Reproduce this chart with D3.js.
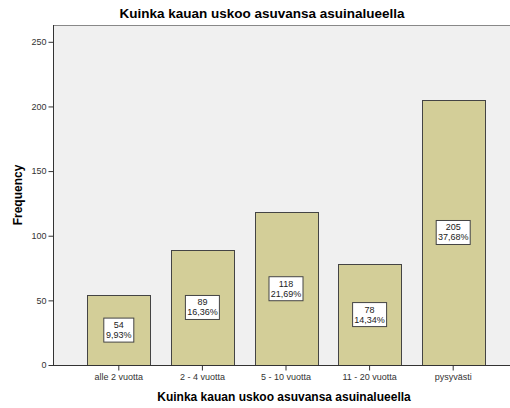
<!DOCTYPE html>
<html lang="fi">
<head>
  <meta charset="UTF-8">
  <title>Kuinka kauan uskoo asuvansa asuinalueella</title>
  <script src="https://cdn.jsdelivr.net/npm/d3@7"></script>
  <style>
    body { margin: 0; background: #fff; }
    text { font-family: "Liberation Sans", Arial, sans-serif; }
  </style>
</head>
<body>
<script>
  var categories = ['alle 2 vuotta', '2 - 4 vuotta', '5 - 10 vuotta', '11 - 20 vuotta', 'pysyvästi'];
  var counts = [54, 89, 118, 78, 205];
  var percents = ['9,93%', '16,36%', '21,69%', '14,34%', '37,68%'];
  var yTicks = [0, 50, 100, 150, 200, 250];

  var W = 510, H = 408;
  var m = {top: 25, right: 0, bottom: 43, left: 53};
  var iw = W - m.left - m.right, ih = H - m.top - m.bottom;

  var svg = d3.select('body').append('svg')
    .attr('width', W).attr('height', H);

  var x = d3.scaleBand()
    .domain(categories)
    .range([m.left + 24, m.left + 24 + 5 * 83.6])
    .paddingInner(0.25).paddingOuter(0.125);

  var y = d3.scaleLinear().domain([0, 263]).range([m.top + ih, m.top]);

  // plot background
  svg.append('rect')
    .attr('x', m.left).attr('y', m.top)
    .attr('width', iw).attr('height', ih)
    .attr('fill', '#f0f0f0');
  svg.append('line')
    .attr('x1', m.left).attr('x2', W)
    .attr('y1', m.top + 0.5).attr('y2', m.top + 0.5)
    .attr('stroke', '#888');

  var data = categories.map(function(c, i) {
    return {cat: c, n: counts[i], p: percents[i]};
  });

  svg.selectAll('rect.bar')
    .data(data).enter().append('rect')
    .attr('class', 'bar')
    .attr('x', function(d) { return Math.round(x(d.cat)) + 0.5; })
    .attr('y', function(d) { return Math.round(y(d.n)) + 0.5; })
    .attr('width', Math.round(x.bandwidth()))
    .attr('height', function(d) { return Math.round(y(0)) - Math.round(y(d.n)); })
    .attr('fill', '#d3ce98')
    .attr('stroke', '#444')
    .attr('stroke-width', 1);

  // axes
  var yAxis = d3.axisLeft(y).tickValues(yTicks).tickSize(5).tickPadding(2);
  var gy = svg.append('g').attr('transform', 'translate(' + (m.left + 0.5) + ',0)').call(yAxis);
  var xAxis = d3.axisBottom(x).tickSize(5).tickPadding(3);
  var gx = svg.append('g').attr('transform', 'translate(0,' + (Math.round(y(0)) + 0.5) + ')').call(xAxis);
  gy.select('.domain').attr('d', 'M0,' + m.top + 'V' + (y(0) + 0.5)).attr('stroke', '#333');
  gx.select('.domain').attr('d', 'M' + m.left + ',0H' + W).attr('stroke', '#333');
  [gy, gx].forEach(function(g) {
    g.selectAll('.tick line').attr('stroke', '#333');
    g.selectAll('.tick text').attr('fill', '#333').style('font-size', '9px')
      .style('font-family', '"Liberation Sans", Arial, sans-serif');
  });

  // value labels
  var lab = svg.selectAll('g.lab')
    .data(data).enter().append('g')
    .attr('class', 'lab')
    .attr('transform', function(d) {
      return 'translate(' + (x(d.cat) + x.bandwidth() / 2) + ',' + ((y(d.n) + y(0)) / 2) + ')';
    });
  lab.append('rect')
    .attr('x', function(d) { return d.p.length > 5 ? -17 : -15; })
    .attr('y', -12)
    .attr('width', function(d) { return d.p.length > 5 ? 34 : 30; })
    .attr('height', 24)
    .attr('fill', '#fff').attr('stroke', '#444');
  lab.append('text').attr('text-anchor', 'middle').attr('y', -2)
    .style('font-size', '9px').attr('fill', '#222')
    .text(function(d) { return d.n; });
  lab.append('text').attr('text-anchor', 'middle').attr('y', 8)
    .style('font-size', '9px').attr('fill', '#222')
    .text(function(d) { return d.p; });

  // titles
  svg.append('text').attr('x', 262).attr('y', 18).attr('text-anchor', 'middle')
    .style('font-size', '13.5px').style('font-weight', 'bold')
    .text('Kuinka kauan uskoo asuvansa asuinalueella');
  svg.append('text').attr('x', 284).attr('y', 401).attr('text-anchor', 'middle')
    .style('font-size', '12px').style('font-weight', 'bold')
    .text('Kuinka kauan uskoo asuvansa asuinalueella');
  svg.append('text')
    .attr('transform', 'translate(22,' + (m.top + ih / 2) + ') rotate(-90)')
    .attr('text-anchor', 'middle')
    .style('font-size', '12px').style('font-weight', 'bold')
    .text('Frequency');
</script>
</body>
</html>
